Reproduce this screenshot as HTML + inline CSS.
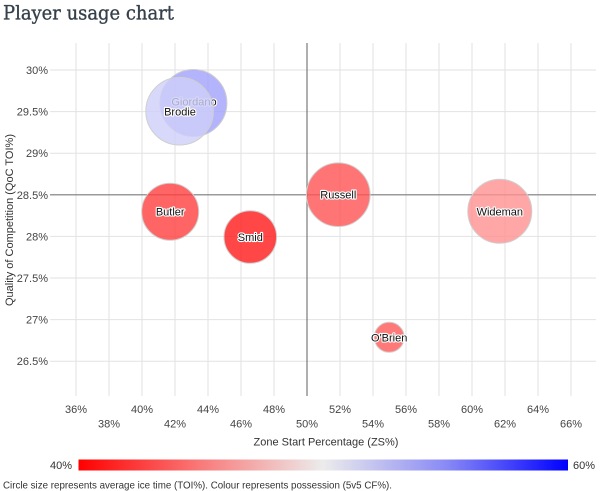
<!DOCTYPE html>
<html><head><meta charset="utf-8"><style>
html,body{margin:0;padding:0;background:#fff;}
svg{display:block;}
text{font-family:"Liberation Sans",Arial,sans-serif;}
</style></head><body>
<svg width="600" height="491" viewBox="0 0 600 491" xmlns="http://www.w3.org/2000/svg">
<defs>
<linearGradient id="cb" x1="0" x2="1" y1="0" y2="0">
<stop offset="0" stop-color="#ff0000"/>
<stop offset="0.25" stop-color="#f97a7a"/>
<stop offset="0.5" stop-color="#ececec"/>
<stop offset="0.75" stop-color="#8a8af6"/>
<stop offset="1" stop-color="#0000ff"/>
</linearGradient>
</defs>
<text x="3" y="19.5" font-size="20" fill="#35404b" stroke="#35404b" stroke-width="0.35" textLength="171" lengthAdjust="spacingAndGlyphs" style="font-family:'DejaVu Serif','Liberation Serif',serif">Player usage chart</text>

<!-- grid -->
<g stroke="#e2e2e2" stroke-width="1">
<line x1="50" x2="596" y1="70" y2="70"/>
<line x1="50" x2="596" y1="111.6" y2="111.6"/>
<line x1="50" x2="596" y1="153.2" y2="153.2"/>
<line x1="50" x2="596" y1="236.4" y2="236.4"/>
<line x1="50" x2="596" y1="278" y2="278"/>
<line x1="50" x2="596" y1="319.6" y2="319.6"/>
<line x1="50" x2="596" y1="361.2" y2="361.2"/>
<line x1="76" x2="76" y1="43" y2="396"/>
<line x1="109" x2="109" y1="43" y2="396"/>
<line x1="142" x2="142" y1="43" y2="396"/>
<line x1="175" x2="175" y1="43" y2="396"/>
<line x1="208" x2="208" y1="43" y2="396"/>
<line x1="241" x2="241" y1="43" y2="396"/>
<line x1="274" x2="274" y1="43" y2="396"/>
<line x1="340" x2="340" y1="43" y2="396"/>
<line x1="373" x2="373" y1="43" y2="396"/>
<line x1="406" x2="406" y1="43" y2="396"/>
<line x1="439" x2="439" y1="43" y2="396"/>
<line x1="472" x2="472" y1="43" y2="396"/>
<line x1="505" x2="505" y1="43" y2="396"/>
<line x1="538" x2="538" y1="43" y2="396"/>
<line x1="571" x2="571" y1="43" y2="396"/>
</g>
<g stroke="#7a7a7a" stroke-width="1.2">
<line x1="50" x2="596" y1="194.8" y2="194.8"/>
<line x1="307" x2="307" y1="43" y2="396"/>
</g>

<!-- y labels -->
<g font-size="11" fill="#444" text-anchor="end">
<text x="48" y="74">30%</text>
<text x="48" y="115.6">29.5%</text>
<text x="48" y="157.2">29%</text>
<text x="48" y="198.8">28.5%</text>
<text x="48" y="240.4">28%</text>
<text x="48" y="282">27.5%</text>
<text x="48" y="323.6">27%</text>
<text x="48" y="365.2">26.5%</text>
</g>
<text transform="translate(13,220) rotate(-90)" font-size="11" fill="#333" text-anchor="middle">Quality of Competition (QoC TOI%)</text>

<!-- x labels -->
<g font-size="11" fill="#444" text-anchor="middle">
<text x="76" y="413">36%</text>
<text x="142" y="413">40%</text>
<text x="208" y="413">44%</text>
<text x="274" y="413">48%</text>
<text x="340" y="413">52%</text>
<text x="406" y="413">56%</text>
<text x="472" y="413">60%</text>
<text x="538" y="413">64%</text>
<text x="109" y="427.5">38%</text>
<text x="175" y="427.5">42%</text>
<text x="241" y="427.5">46%</text>
<text x="307" y="427.5">50%</text>
<text x="373" y="427.5">54%</text>
<text x="439" y="427.5">58%</text>
<text x="505" y="427.5">62%</text>
<text x="571" y="427.5">66%</text>
</g>
<text x="326" y="445.5" font-size="11" fill="#333" text-anchor="middle">Zone Start Percentage (ZS%)</text>

<!-- bubbles -->
<g stroke="#cfcfcf" stroke-width="1" fill-opacity="0.8">
<circle cx="193.4" cy="103" r="33.5" fill="rgb(161,161,251)"/>
</g>
<g font-size="11" text-anchor="middle" fill="#111" stroke="#fff" stroke-width="2.2" style="paint-order:stroke" stroke-linejoin="round">
<text x="194" y="105.5">Giordano</text>
</g>
<g stroke="#cfcfcf" stroke-width="1" fill-opacity="0.8">
<circle cx="179.6" cy="111.2" r="33.8" fill="rgb(206,206,249)"/>
<circle cx="170.2" cy="211.7" r="28.5" fill="rgb(255,62,62)"/>
<circle cx="250.3" cy="237" r="26.3" fill="rgb(255,25,25)"/>
<circle cx="338.3" cy="194.7" r="31.8" fill="rgb(255,82,82)"/>
<circle cx="499.8" cy="211.3" r="32" fill="rgb(255,145,145)"/>
<circle cx="389.2" cy="337.3" r="15" fill="rgb(255,88,88)"/>
</g>
<g font-size="11" text-anchor="middle" fill="#111" stroke="#fff" stroke-width="2.2" style="paint-order:stroke" stroke-linejoin="round">
<text x="180" y="115.5">Brodie</text>
<text x="170.2" y="215.5">Butler</text>
<text x="250.3" y="241">Smid</text>
<text x="338.3" y="198.7">Russell</text>
<text x="499.8" y="215.3">Wideman</text>
<text x="389.2" y="341.3">O'Brien</text>
</g>

<!-- colour bar -->
<rect x="78.5" y="459.5" width="489.5" height="11" fill="url(#cb)"/>
<text x="72" y="469" font-size="11" fill="#333" text-anchor="end">40%</text>
<text x="573" y="469" font-size="11" fill="#333">60%</text>
<text x="3" y="488.5" font-size="10" fill="#333" textLength="389" lengthAdjust="spacingAndGlyphs">Circle size represents average ice time (TOI%). Colour represents possession (5v5 CF%).</text>
</svg>
</body></html>
